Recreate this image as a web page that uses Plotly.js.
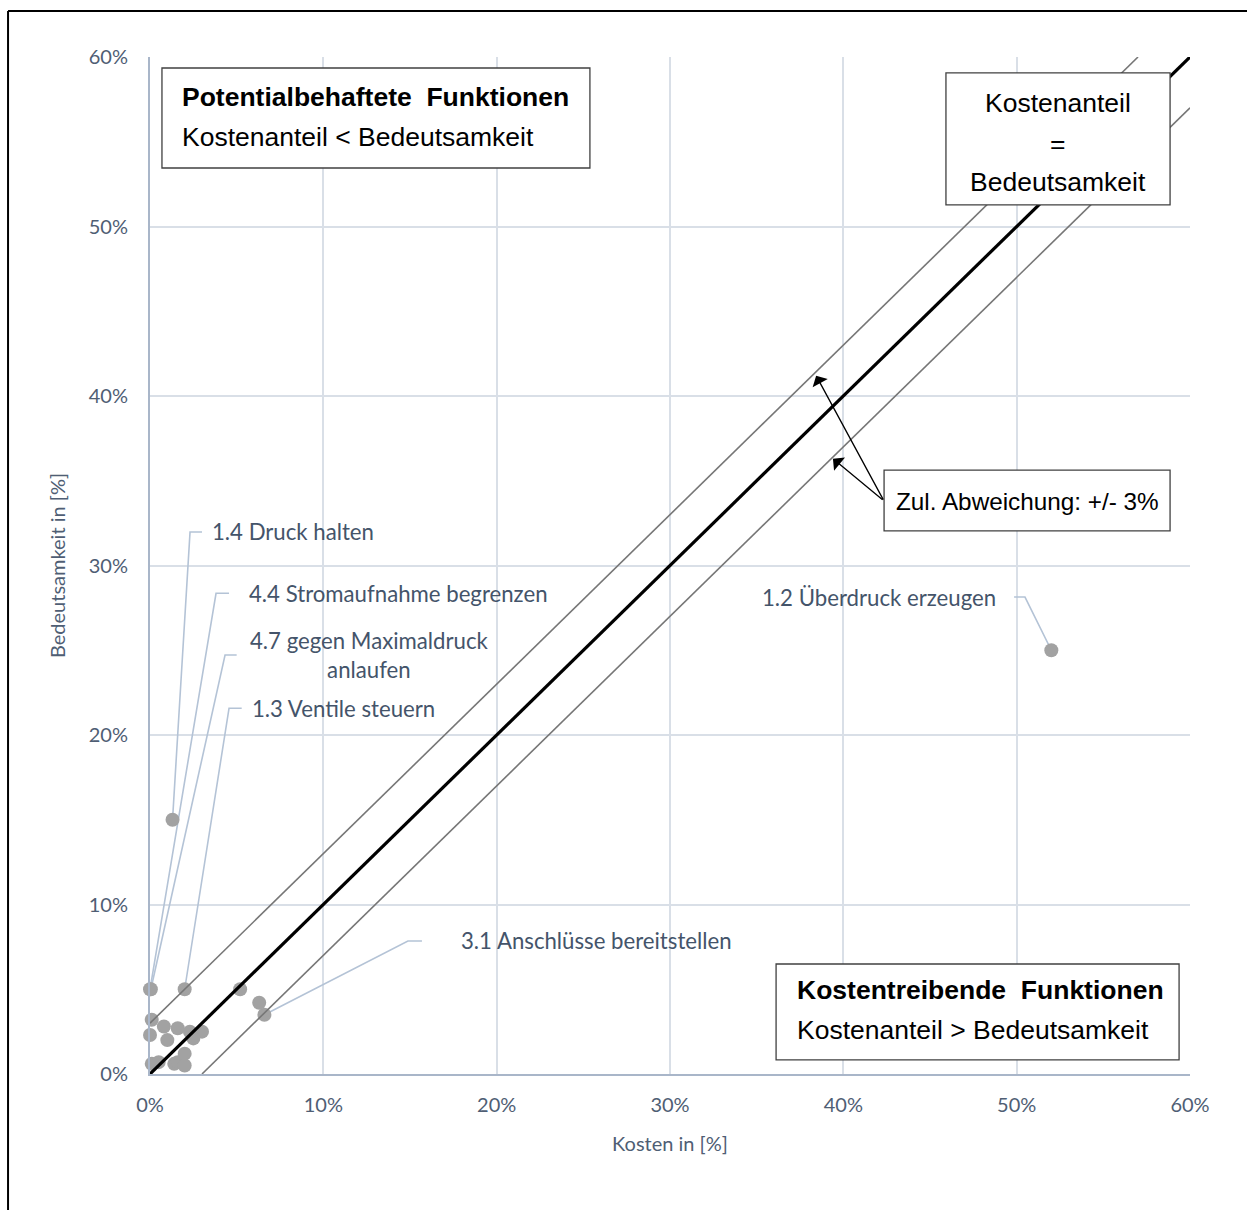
<!DOCTYPE html>
<html><head><meta charset="utf-8">
<script src="https://cdn.plot.ly/plotly-3.0.1.min.js"></script>
<style>html,body{margin:0;padding:0;background:#fff}#chart{width:1247px;height:1210px}</style>
</head><body><div id="chart"></div>
<script>
// ---- data (values in %) ----
const kosten        = [52.0, 1.3, 0.0, 0.05, 2.0, 6.6, 5.2, 6.3, 0.1, 0.0, 0.8, 1.6, 2.3, 3.0, 1.0, 2.5, 0.1, 0.5, 1.4, 1.6, 2.0, 2.0];
const bedeutsamkeit = [25.0, 15.0, 5.0, 5.0, 5.0, 3.5, 5.0, 4.2, 3.2, 2.3, 2.8, 2.7, 2.5, 2.5, 2.0, 2.1, 0.6, 0.7, 0.6, 0.7, 1.2, 0.5];
const funktionen    = ['1.2 Überdruck erzeugen', '1.4 Druck halten', '4.4 Stromaufnahme begrenzen',
                       '4.7 gegen Maximaldruck<br>anlaufen', '1.3 Ventile steuern', '3.1 Anschlüsse bereitstellen',
                       '', '', '', '', '', '', '', '', '', '', '', '', '', '', '', ''];
const diagonale     = [0, 60];
const toleranz      = 3;
const tickWerte     = [0, 10, 20, 30, 40, 50, 60];

// ---- label placement (layout only) ----
const labelLayout = {
  '1.2 Überdruck erzeugen':              {tx: 48.95, ty: 28.14, xa: 'right',  align: 'right',  e: [50.48, 49.85]},
  '1.4 Druck halten':                    {tx: 3.45, ty: 31.98, xa: 'left',   align: 'left',   e: [2.31, 3.0]},
  '4.4 Stromaufnahme begrenzen':         {tx: 5.6,  ty: 28.36, xa: 'left',   align: 'left',   e: [3.81, 4.56]},
  '4.7 gegen Maximaldruck<br>anlaufen':  {tx: 12.64,ty: 24.72, xa: 'center', align: 'center', e: [4.33, 5.0]},
  '1.3 Ventile steuern':                 {tx: 5.75, ty: 21.58, xa: 'left',   align: 'left',   e: [4.56, 5.29]},
  '3.1 Anschlüsse bereitstellen':        {tx: 17.85,ty: 7.85,  xa: 'left',   align: 'left',   e: [14.88, 15.69]}
};

const labelFont = {family: 'Lato, "Open Sans", sans-serif', size: 22.2, color: '#44546A'};
const boxFont = {family: '"Liberation Sans", Arial, sans-serif', size: 26.5, color: '#000000'};

const traces = [];
const annotations = [];

// leader lines
funktionen.forEach((lab, i) => {
  if (!lab) return;
  const L = labelLayout[lab];
  traces.push({
    type: 'scatter', mode: 'lines', hoverinfo: 'skip', showlegend: false,
    x: [kosten[i], L.e[0], L.e[1]], y: [bedeutsamkeit[i], L.ty, L.ty],
    line: {color: '#B4C3D6', width: 1.6}
  });
  annotations.push({
    x: L.tx, y: L.ty, xref: 'x', yref: 'y', text: lab, showarrow: false,
    xanchor: L.xa, yanchor: 'middle', align: L.align, font: labelFont
  });
});

// markers
traces.push({
  type: 'scatter', mode: 'markers', x: kosten, y: bedeutsamkeit, showlegend: false, cliponaxis: false,
  marker: {color: '#A2A2A2', size: 14, line: {width: 0}}
});

// diagonals
traces.push({type: 'scatter', mode: 'lines', showlegend: false, hoverinfo: 'skip',
  x: [diagonale[0], diagonale[1] - toleranz], y: [diagonale[0] + toleranz, diagonale[1]],
  line: {color: '#767676', width: 1.6}});
traces.push({type: 'scatter', mode: 'lines', showlegend: false, hoverinfo: 'skip',
  x: [diagonale[0] + toleranz, diagonale[1]], y: [diagonale[0], diagonale[1] - toleranz],
  line: {color: '#767676', width: 1.6}});
traces.push({type: 'scatter', mode: 'lines', showlegend: false, hoverinfo: 'skip',
  x: diagonale, y: diagonale, line: {color: '#000000', width: 3.2}});

// text boxes
const boxes = [
  [0.69, 25.38, 53.45, 59.35],
  [45.92, 58.85, 51.27, 59.06],
  [42.35, 58.85, 32.04, 35.63],
  [36.12, 59.37, 0.83, 6.49]
];
const shapes = boxes.map(b => ({type: 'rect', xref: 'x', yref: 'y', x0: b[0], x1: b[1], y0: b[2], y1: b[3],
  fillcolor: '#FFFFFF', line: {color: '#404040', width: 1.3}, layer: 'above'}));

// outer frame
shapes.push({type: 'line', xref: 'paper', yref: 'paper', x0: -0.1365, x1: -0.1365, y0: 1.0452, y1: -0.15, line: {color: '#000', width: 2}});
shapes.push({type: 'line', xref: 'paper', yref: 'paper', x0: -0.1365, x1: 1.07, y0: 1.0452, y1: 1.0452, line: {color: '#000', width: 2}});

const boxText = (x, y, t, xa, bold, size) => annotations.push({x: x, y: y, xref: 'x', yref: 'y', showarrow: false,
  text: bold ? '<b>' + t + '</b>' : t, xanchor: xa, yanchor: 'middle',
  font: Object.assign({}, boxFont, size ? {size: size} : {})});
boxText(1.75, 57.64, 'Potentialbehaftete&nbsp; Funktionen', 'left', true);
boxText(1.75, 55.28, 'Kostenanteil &lt; Bedeutsamkeit', 'left', false);
boxText(52.38, 57.29, 'Kostenanteil', 'center', false);
boxText(52.38, 54.87, '=', 'center', false);
boxText(52.38, 52.63, 'Bedeutsamkeit', 'center', false);
boxText(50.6, 33.8, 'Zul. Abweichung: +/- 3%', 'center', false, 24.3);
boxText(37.22, 4.96, 'Kostentreibende&nbsp; Funktionen', 'left', true);
boxText(37.22, 2.6, 'Kostenanteil &gt; Bedeutsamkeit', 'left', false);

// arrows
[[38.43, 41.2], [39.4, 36.3]].forEach(p => annotations.push({
  x: p[0], y: p[1], xref: 'x', yref: 'y', axref: 'x', ayref: 'y', ax: 42.35, ay: 33.8,
  text: '', showarrow: true, arrowhead: 1, arrowsize: 2.2, arrowwidth: 1.3, arrowcolor: '#000000', standoff: 0, startstandoff: 0
}));

const axisCommon = {
  range: [0, 60], tickvals: tickWerte, ticktext: tickWerte.map(v => v + '%'),
  showline: true, linecolor: '#A9B6C9', linewidth: 2, showgrid: true, gridcolor: '#D9DFE7', gridwidth: 2,
  zeroline: false, ticks: '', tickfont: {family: 'Lato, "Open Sans", sans-serif', size: 20, color: '#4F5E74'},
  fixedrange: true
};

const layout = {
  width: 1247, height: 1210,
  margin: {l: 150, r: 57, t: 57, b: 136},
  paper_bgcolor: '#FFFFFF', plot_bgcolor: '#FFFFFF',
  showlegend: false,
  xaxis: Object.assign({}, axisCommon, {
    ticklabelstandoff: 12,
    title: {text: 'Kosten in [%]', standoff: 22, font: {family: 'Lato, "Open Sans", sans-serif', size: 20, color: '#4F5E74'}}
  }),
  yaxis: Object.assign({}, axisCommon, {
    ticklabelstandoff: 16,
    title: {text: 'Bedeutsamkeit in [%]', standoff: 18, font: {family: 'Lato, "Open Sans", sans-serif', size: 20, color: '#4F5E74'}}
  }),
  shapes: shapes,
  annotations: annotations
};

Plotly.newPlot('chart', traces, layout, {displayModeBar: false, staticPlot: true});
</script>
</body></html>
